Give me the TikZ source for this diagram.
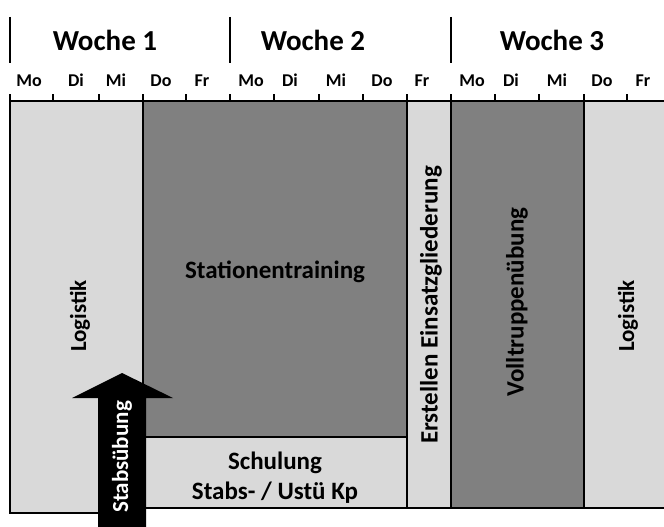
\documentclass[tikz,border=0pt]{standalone}
\usepackage{fontspec}
\setmainfont{Carlito}
\begin{document}
\begin{tikzpicture}[x=1pt,y=-1pt,
  light/.style={fill=lightgray, draw=black, line width=2pt},
  dark/.style={fill=darkgray, draw=black, line width=2pt},
  lbl/.style={font=\fontsize{25}{29}\selectfont\bfseries, inner sep=0pt},
  small/.style={font=\fontsize{23}{27}\selectfont\bfseries, inner sep=0pt, rotate=90},
  vlbl/.style={lbl, rotate=90},
  day/.style={font=\fontsize{18}{20}\selectfont\bfseries, inner sep=0pt, anchor=base},
  week/.style={font=\fontsize{29}{33}\selectfont\bfseries, inner sep=0pt},
  divider/.style={line width=2.5pt},
]
\colorlet{lightgray}{black!15}
\colorlet{darkgray}{black!50}
\useasboundingbox (0,0) rectangle (664,527);

% activity blocks
\draw[light] (10,101) rectangle (143,513);
\draw[dark]  (143,101) rectangle (407,437);
\draw[light] (143,437) rectangle (407,508);
\draw[light] (407,101) rectangle (451,508);
\draw[dark]  (451,101) rectangle (584,508);
\draw[light] (584,101) rectangle (680,508);

% block labels
\node[small] (log1) at (80,316) {Logistik};
\node[lbl]   (stat) at (275,272) {Stationentraining};
\node[lbl]   (sch1) at (275,463) {Schulung};
\node[lbl]   (sch2) at (275,493) {Stabs- / Ustü Kp};
\node[vlbl]  (eins) at (431,305) {Erstellen Einsatzgliederung};
\node[vlbl]  (voll) at (517,302) {Volltruppenübung};
\node[small] (log2) at (628,316) {Logistik};

% time axis with day ticks
\draw[line width=2.5pt] (10,101) -- (680,101);
\foreach \t in {10,53,99,143,186,230,274,319,363,407,451,495,539,584,627}
  \draw[line width=2pt] (\t,101) -- (\t,94);

% day names, set on a common baseline
\foreach \x/\d [count=\i] in {29/Mo,76/Di,116/Mi,161/Do,202/Fr,
                              251/Mo,290/Di,336/Mi,382/Do,422/Fr,
                              472/Mo,511/Di,557/Mi,602/Do,643/Fr}
  \node[day] (d\i) at (\x,87) {\d};

% week separators and titles
\foreach \x in {10,230,451}
  \draw[divider] (\x,17) -- (\x,63);
\node[week] (w1) at (105,40) {Woche 1};
\node[week] (w2) at (313,40) {Woche 2};
\node[week] (w3) at (552,40) {Woche 3};

% staff exercise arrow
\fill[black] (122,373) -- (173,398) -- (146,398) -- (146,530)
  -- (98,530) -- (98,398) -- (72,398) -- cycle;
\node[small, text=white] (stab) at (122,457) {Stabsübung};
\end{tikzpicture}
\end{document}
